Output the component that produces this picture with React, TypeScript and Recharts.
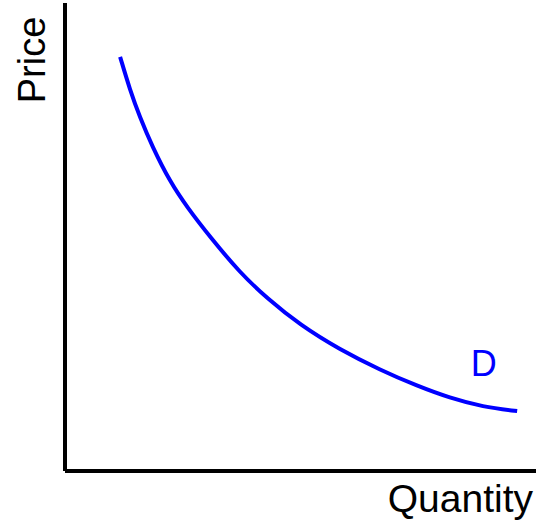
import { LineChart, Line, XAxis, YAxis, ReferenceDot } from 'recharts';

// demand curve (quantity 0-100, price 0-100)
const quantity = [11.7, 13.8, 15.9, 18.5, 22.3, 25.9, 30.8, 37.2, 42.9, 49.9, 58.4, 66.9, 74.7, 81.7, 88.7, 96.0];
const price = [88.5, 81.4, 75.6, 69.4, 61.8, 56.4, 50.0, 42.3, 36.9, 31.2, 25.9, 21.6, 18.2, 15.6, 13.7, 12.8];

const curveName = 'D';
const curveLabelAt = { q: 88.9, p: 23.1 };
const xTitle = 'Quantity';
const yTitle = 'Price';

const data = quantity.map((q, i) => ({ q, p: price[i] }));

const FONT = '"Liberation Sans", Arial, sans-serif';
const BLUE = '#0000ff';

function XTitle(props: any) {
  const { viewBox } = props;
  return (
    <text x={viewBox.x + viewBox.width - 3} y={viewBox.y + 41} textAnchor="end" fontSize={39} fontFamily={FONT} fill="#000">
      {xTitle}
    </text>
  );
}

function YTitle(props: any) {
  const { viewBox } = props;
  const x = viewBox.x + viewBox.width - 20;
  const y = viewBox.y + 57;
  return (
    <text x={x} y={y} transform={`rotate(-90 ${x} ${y})`} textAnchor="middle" fontSize={38} fontFamily={FONT} fill="#000">
      {yTitle}
    </text>
  );
}

function CurveLabel(props: any) {
  const { viewBox } = props;
  return (
    <text x={viewBox.x} y={viewBox.y + 13} textAnchor="middle" fontSize={36} fontFamily={FONT} fill={BLUE}>
      {curveName}
    </text>
  );
}

export default function App() {
  return (
    <div style={{ position: 'absolute', left: 0, top: 0, background: '#fff' }}>
      <LineChart width={546} height={520} data={data} margin={{ top: 3, right: 10, bottom: 48, left: 64 }}>
        <XAxis
          type="number"
          dataKey="q"
          domain={[0, 100]}
          height={1}
          tick={false}
          tickLine={false}
          axisLine={{ stroke: '#000', strokeWidth: 4 }}
          label={<XTitle />}
        />
        <YAxis
          type="number"
          domain={[0, 100]}
          width={1}
          tick={false}
          tickLine={false}
          axisLine={{ stroke: '#000', strokeWidth: 4 }}
          label={<YTitle />}
        />
        <Line type="basis" dataKey="p" stroke={BLUE} strokeWidth={4} dot={false} isAnimationActive={false} />
        <ReferenceDot x={curveLabelAt.q} y={curveLabelAt.p} r={0} fill="none" stroke="none" label={<CurveLabel />} />
      </LineChart>
    </div>
  );
}
